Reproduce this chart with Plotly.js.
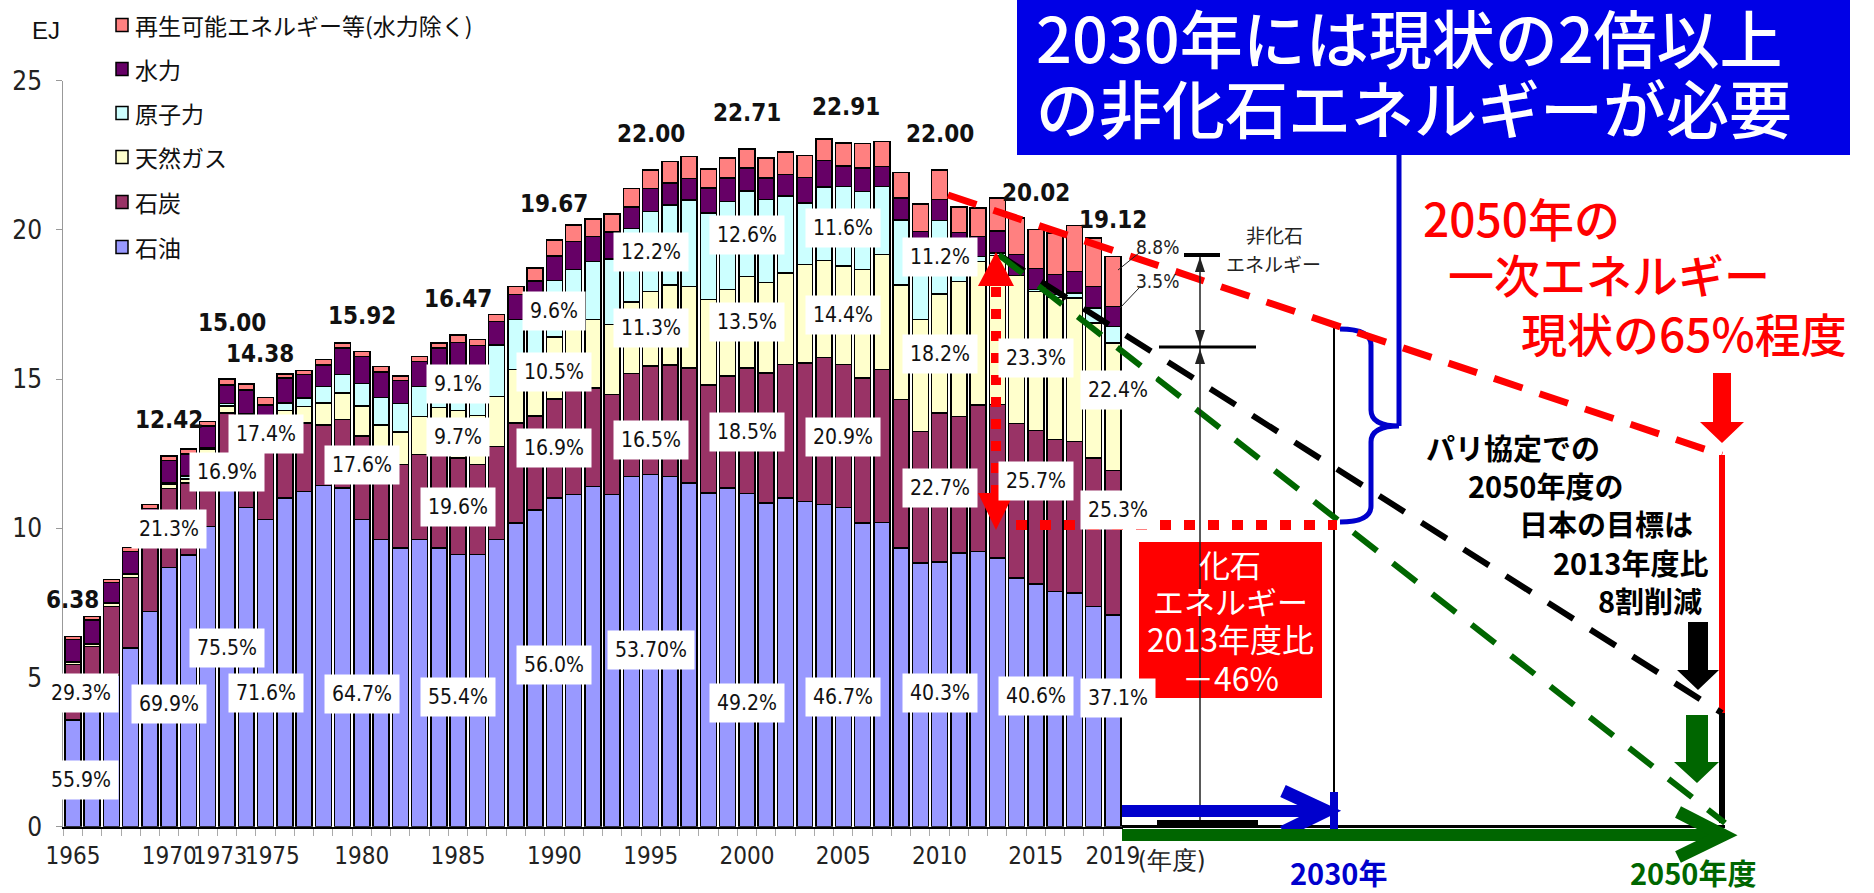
<!DOCTYPE html>
<html><head><meta charset="utf-8">
<script src="https://cdn.plot.ly/plotly-3.0.1.min.js"></script>
<style>html,body{margin:0;padding:0;background:#fff;}#chart{width:1874px;height:893px;}</style>
</head><body><div id="chart"></div>
<script>
// ---------------- DATA (EJ) ----------------
const years = ['1965','1966','1967','1968','1969','1970','1971','1972','1973','1974','1975','1976','1977','1978','1979','1980','1981','1982','1983','1984','1985','1986','1987','1988','1989','1990','1991','1992','1993','1994','1995','1996','1997','1998','1999','2000','2001','2002','2003','2004','2005','2006','2007','2008','2009','2010','2011','2012','2013','2014','2015','2016','2017','2018','2019'];
const oil = [3.57,4.10,5.09,5.99,7.22,8.68,9.11,10.06,11.33,10.70,10.30,11.01,11.24,11.43,11.35,10.30,9.62,9.34,9.62,9.34,9.12,9.12,9.62,10.18,10.62,11.02,11.13,11.40,11.13,11.74,11.81,11.74,11.52,11.18,11.35,11.17,10.85,11.02,10.90,10.79,10.70,10.18,10.20,9.34,8.84,8.87,9.17,9.23,9.00,8.33,8.13,7.89,7.83,7.38,7.09];
const coal = [1.87,1.94,2.29,2.36,2.56,2.65,2.40,2.45,2.54,2.68,2.50,2.52,2.29,2.04,2.29,2.80,2.70,2.79,2.85,3.25,3.23,3.01,3.12,3.35,3.15,3.32,3.51,3.30,3.35,3.45,3.63,3.74,3.85,3.63,3.76,4.20,4.36,4.47,4.64,4.94,4.79,4.86,5.12,4.97,4.41,4.99,4.58,4.91,5.15,5.19,5.14,5.08,5.08,4.98,4.84];
const gas = [0.08,0.08,0.10,0.10,0.10,0.15,0.15,0.15,0.23,0.32,0.36,0.41,0.55,0.73,0.89,1.00,1.15,1.10,1.28,1.45,1.60,1.65,1.68,1.79,1.85,2.07,2.05,2.29,2.35,2.40,2.49,2.68,2.73,2.85,2.90,3.07,3.02,3.07,3.30,3.24,3.30,3.63,3.85,3.85,3.74,4.00,4.52,4.80,5.00,4.95,4.66,4.76,4.80,4.52,4.28];
const nuclear = [0.00,0.02,0.03,0.04,0.03,0.05,0.10,0.05,0.09,0.13,0.22,0.26,0.28,0.56,0.62,0.75,0.91,0.95,1.01,1.35,1.50,1.65,1.73,1.67,1.80,1.89,1.98,1.95,2.20,2.45,2.68,2.68,2.90,2.90,2.95,2.86,2.79,2.57,2.07,2.46,2.66,2.62,2.29,2.18,2.24,2.46,0.90,0.17,0.08,0.00,0.08,0.10,0.17,0.50,0.55];
const hydro = [0.76,0.78,0.67,0.73,0.75,0.75,0.73,0.72,0.62,0.80,0.76,0.84,0.79,0.72,0.89,0.90,0.85,0.78,0.83,0.65,0.77,0.70,0.78,0.84,0.86,0.83,0.94,0.84,0.90,0.73,0.77,0.73,0.73,0.84,0.78,0.77,0.72,0.73,0.84,0.89,0.69,0.78,0.67,0.73,0.72,0.70,0.75,0.67,0.73,0.70,0.70,0.67,0.73,0.73,0.67];
const renew = [0.10,0.12,0.10,0.14,0.13,0.14,0.17,0.15,0.19,0.20,0.24,0.13,0.14,0.17,0.17,0.17,0.20,0.15,0.17,0.17,0.25,0.19,0.23,0.27,0.45,0.54,0.56,0.58,0.60,0.61,0.62,0.73,0.73,0.64,0.67,0.64,0.67,0.75,0.75,0.73,0.77,0.82,0.84,0.86,0.92,0.98,0.85,0.95,1.11,1.23,1.31,1.40,1.53,1.62,1.68];

const seriesNames = ['石油','石炭','天然ガス','原子力','水力','再生可能エネルギー等(水力除く)'];
const tickYears = ['1965','1970','1973','1975','1980','1985','1990','1995','2000','2005','2010','2015','2019'];

const totalYears = ['1965','1970','1973','1975','1980','1985','1990','1995','2000','2005','2010','2015','2019'];
const totalText  = ['6.38','12.42','15.00','14.38','15.92','16.47','19.67','22.00','22.71','22.91','22.00','20.02','19.12'];

const shareYears = ['1965','1965','1970','1970','1973','1973','1975','1975','1980','1980','1985','1985','1985','1985','1990','1990','1990','1990','1995','1995','1995','1995','2000','2000','2000','2000','2005','2005','2005','2005','2010','2010','2010','2010','2015','2015','2015','2019','2019','2019'];
const shareText  = ['55.9%','29.3%','69.9%','21.3%','75.5%','16.9%','71.6%','17.4%','64.7%','17.6%','55.4%','19.6%','9.7%','9.1%','56.0%','16.9%','10.5%','9.6%','53.70%','16.5%','11.3%','12.2%','49.2%','18.5%','13.5%','12.6%','46.7%','20.9%','14.4%','11.6%','40.3%','22.7%','18.2%','11.2%','40.6%','25.7%','23.3%','37.1%','25.3%','22.4%'];

// ---------------- PLACEMENT / STYLE ----------------
const shareLabelY = [1.57,4.48,4.11,9.98,5.99,11.89,4.48,13.16,4.45,12.12,4.35,10.71,13.06,14.84,5.42,12.69,15.24,17.28,5.92,12.96,16.71,19.26,4.15,13.23,16.91,19.83,4.35,13.06,17.15,20.06,4.48,11.35,15.84,19.09,4.38,11.59,15.70,4.31,10.61,14.63];
const shareShift = {'1965':8,'2019':5};
const totalShift = {'1973':[5,40],'1975':[-6,28],'2005':[3,20]};
const tickPad = {'1973':'1973\u00a0\u00a0','1975':'\u00a0\u00a01975'};

const W = 1874, H = 893;
const X = v => v / W, Y = v => 1 - v / H;
const NARROW = '"Liberation Sans Narrow","Arial Narrow","DejaVu Sans Condensed","Liberation Sans",sans-serif';
const CJK = '"Noto Sans CJK JP","Noto Sans CJK SC",sans-serif';
const colors = ['#9999FF','#993366','#FFFFCC','#CCFFFF','#660066','#FF8080'];
const values = [oil, coal, gas, nuclear, hydro, renew];

const traces = values.map((v, i) => ({
  type: 'bar', x: years, y: v, name: seriesNames[i],
  marker: {color: colors[i], line: {color: '#000', width: 1.5}},
  showlegend: false, hoverinfo: 'x+y+name'
}));

const shapes = [];
const ann = [];
function line(x0,y0,x1,y1,color,width,dash){shapes.push({type:'line',xref:'paper',yref:'paper',x0:X(x0),y0:Y(y0),x1:X(x1),y1:Y(y1),line:{color:color,width:width,dash:dash||'solid'}});}
function rect(x0,y0,x1,y1,fill,lc,lw){shapes.push({type:'rect',xref:'paper',yref:'paper',x0:X(x0),y0:Y(y0),x1:X(x1),y1:Y(y1),fillcolor:fill,line:{color:lc||fill,width:lw===undefined?0:lw}});}
const NP = {M:2,L:2,Q:4,Z:0};
function path(segs,fill,lc,lw){
  let d='';
  segs.forEach(s=>{
    const c=s[0], n=NP[c];
    if(n===0){d+='Z';return;}
    for(let k=1;k<s.length;k+=n){
      d+=c;
      for(let j=0;j<n;j+=2){d+=X(s[k+j]).toFixed(5)+','+Y(s[k+j+1]).toFixed(5)+(j+2<n?' ':'');}
    }
  });
  shapes.push({type:'path',xref:'paper',yref:'paper',path:d,fillcolor:fill||'rgba(0,0,0,0)',line:{color:lc||'rgba(0,0,0,0)',width:lw||0}});
}
function txt(x,y,t,size,color,family,extra){ann.push(Object.assign({xref:'paper',yref:'paper',x:X(x),y:Y(y),text:t,showarrow:false,xanchor:'center',yanchor:'middle',font:{size:size,color:color,family:family}},extra||{}));}

// legend (manual)
const legY = [25,69,113,157,202,247];
for (let i=0;i<6;i++){
  const k = 5-i;
  rect(116,legY[i]-6.5,128,legY[i]+6.5,colors[k],'#000',1.5);
  txt(133,legY[i],seriesNames[k],23,'#111',CJK,{xanchor:'left'});
}
txt(46,30,'EJ',24,'#111','"Liberation Sans",Arial,sans-serif');

// totals (anchored on the category axis by index)
totalYears.forEach((yr,i)=>{
  const idx = years.indexOf(yr);
  const tot = oil[idx]+coal[idx]+gas[idx]+nuclear[idx]+hydro[idx]+renew[idx];
  const sh = totalShift[yr] || [0,20];
  ann.push({xref:'x',yref:'y',x:idx,y:tot,text:'<b>'+totalText[i]+'</b>',showarrow:false,yanchor:'bottom',xanchor:'center',xshift:sh[0],yshift:sh[1],font:{size:24,color:'#111',family:NARROW}});
});
// share labels
shareYears.forEach((yr,i)=>{
  const idx = years.indexOf(yr);
  ann.push({xref:'x',yref:'y',x:idx,y:shareLabelY[i],text:shareText[i],showarrow:false,xanchor:'center',yanchor:'middle',xshift:(shareShift[yr]||0),bgcolor:'#fff',borderpad:7,font:{size:21,color:'#111',family:NARROW}});
});

// ---------- right-hand annotation graphics ----------
rect(1017,0,1850,155,'#0000E6');
const boxFont = {size:63,color:'#fff',family:CJK,weight:500};
txt(1034,35,'2030年には現状の2倍以上',63,'#fff',CJK,{xanchor:'left',font:boxFont,height:70});
txt(1034,105,'の非化石エネルギーが必要',63,'#fff',CJK,{xanchor:'left',font:boxFont,height:70});
line(1399,155,1399,426,'#0000CC',5);
path([['M',1340,329],['Q',1371,329,1371,345],['L',1371,410],['Q',1371,426,1399,426],['Q',1371,426,1371,442],['L',1371,506],['Q',1371,522,1340,522]],null,'#0000CC',5);
line(1334,328,1334,827,'#000',2);
line(948,195,1722,455,'#FF0000',7,'30px,18px');
line(1722,455,1722,713,'#FF0000',6);
line(1722,713,1722,823,'#000',6);
line(999,255,1722,713,'#000',6,'30px,20px');
line(999,255,1725,823,'#006600',6,'30px,20px');
line(996,287,996,493,'#FF0000',10,'10px,12px');
path([['M',978,286],['L',1014,286,996,252],['Z']],'#FF0000');
path([['M',978,493],['L',1014,493,996,530],['Z']],'#FF0000');
line(1016,525,1337,525,'#FF0000',10,'11px,13px');
rect(1139,542,1322,698,'#FF0000');
txt(1230,563,'化石',31,'#fff',CJK,{height:36});
txt(1230,600,'エネルギー',31,'#fff',CJK,{height:36});
txt(1230,638,'2013年度比',32,'#fff',CJK,{height:38});
txt(1230,677,'－46%',32,'#fff',CJK,{height:38});
line(1200,255,1200,822,'#222',1.5);
path([['M',1195,272],['L',1205,272,1200,257],['Z']],'#222');
path([['M',1195,330],['L',1205,330,1200,345],['Z']],'#222');
path([['M',1195,364],['L',1205,364,1200,349],['Z']],'#222');
line(1184,255,1220,255,'#000',4);
line(1159,347,1256,347,'#000',3);
rect(1157,820,1258,826,'#000');
txt(1274,234,'非化石',19,'#222',CJK,{height:26});
txt(1273,263,'エネルギー',19,'#222',CJK,{height:26});
txt(1157,247,'8.8%',19,'#222',NARROW,{height:24});
txt(1157,281,'3.5%',19,'#222',NARROW,{height:24});
line(1139,253,1118,270,'#222',1);
line(1139,288,1120,308,'#222',1);
line(1122,826.5,1725,826.5,'#000',3);
rect(1122,805,1318,817,'#0000CC');
path([['M',1283,791],['L',1326,811,1283,832]],null,'#0000CC',13);
rect(1330,792,1338,830,'#0000CC');
rect(1122,829,1716,841,'#006600');
path([['M',1678,812],['L',1723,835,1678,857]],null,'#006600',13);
path([['M',1713,373],['L',1731,373,1731,422,1744,422,1722,443,1700,422,1713,422],['Z']],'#FF0000');
path([['M',1688,622],['L',1708,622,1708,670,1719,670,1698,690,1677,670,1688,670],['Z']],'#000');
path([['M',1686,715],['L',1708,715,1708,762,1719,762,1697,783,1674,762,1686,762],['Z']],'#006600');

const redFont = {size:46,color:'#FF0000',family:CJK,weight:500};
txt(1521,217,'2050年の',46,'#FF0000',CJK,{font:redFont,height:54});
txt(1609,273,'一次エネルギー',46,'#FF0000',CJK,{font:redFont,height:54});
txt(1684,332,'現状の65%程度',46,'#FF0000',CJK,{font:redFont,height:54});
const bf = {size:29,color:'#000',family:CJK,weight:'bold'};
txt(1513,447,'パリ協定での',29,'#000',CJK,{font:bf,height:36});
txt(1545,485,'2050年度の',29,'#000',CJK,{font:bf,height:36});
txt(1606,523,'日本の目標は',29,'#000',CJK,{font:bf,height:36});
txt(1630,562,'2013年度比',29,'#000',CJK,{font:bf,height:36});
txt(1650,600,'8割削減',29,'#000',CJK,{font:bf,height:36});
txt(1338,872,'2030年',29,'#0000CC',CJK,{font:{size:29,color:'#0000CC',family:CJK,weight:'bold'}});
txt(1693,872,'2050年度',29,'#006600',CJK,{font:{size:29,color:'#006600',family:CJK,weight:'bold'}});
txt(1172,860,'(年度)',25,'#222',NARROW);

const layout = {
  width: W, height: H,
  margin: {l:0,r:0,t:0,b:0},
  paper_bgcolor: '#fff', plot_bgcolor: 'rgba(0,0,0,0)',
  barmode: 'stack', bargap: 0.17,
  showlegend: false,
  xaxis: {
    type:'category', categoryorder:'array', categoryarray: years, range:[-0.5,54.5], domain:[63.3/W,1122.5/W],
    showline:true, linecolor:'#000', linewidth:2.5, ticks:'outside', tickson:'boundaries', ticklen:7, tickcolor:'#aaa', tickwidth:1,
    tickmode:'array', tickvals: years, ticktext: years.map(y => tickYears.includes(y) ? (tickPad[y] || y) : ''),
    tickangle:0, tickfont:{size:24,color:'#222',family:NARROW}, ticklabelstandoff:6, showgrid:false, automargin:false, fixedrange:true
  },
  yaxis: {
    range:[0,25], domain:[(H-826.7)/H,(H-80.7)/H], tickmode:'array', tickvals:[0,5,10,15,20,25],
    showline:true, linecolor:'#999', linewidth:1, ticks:'outside', ticklen:6, tickcolor:'#999',
    tickfont:{size:26,color:'#222',family:NARROW}, ticklabelstandoff:9, showgrid:false, zeroline:false, automargin:false, fixedrange:true
  },
  shapes: shapes,
  annotations: ann
};
Plotly.newPlot('chart', traces, layout, {staticPlot:true, displayModeBar:false});
</script>
</body></html>
